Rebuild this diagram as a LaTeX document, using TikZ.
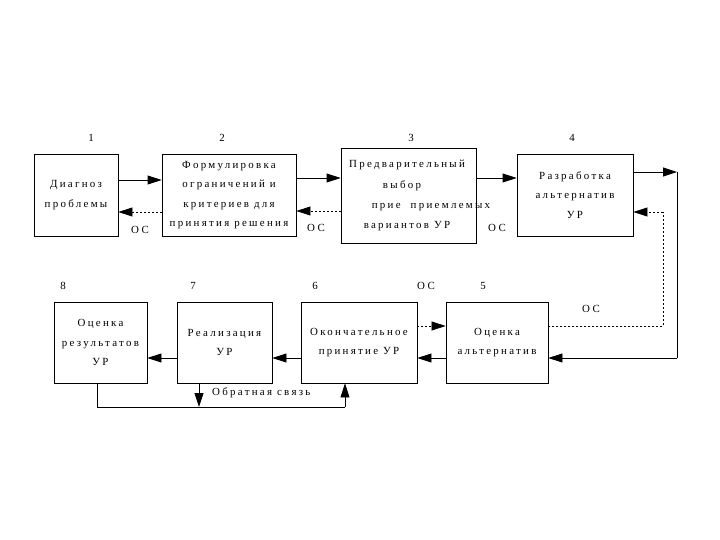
\documentclass[tikz,border=0pt]{standalone}
\usepackage{fontspec}
\setmainfont{Liberation Serif}[LetterSpace=21]
\usetikzlibrary{arrows.meta,calc}
\begin{document}
\begin{tikzpicture}[x=1pt,y=-1pt,
  box/.style={draw,line width=0.8pt,inner sep=0pt,align=center,
    font=\fontsize{10.9}{19.6}\selectfont},
  txt/.style={inner sep=0pt,font=\fontsize{10.9}{19.6}\selectfont},
  lbl/.style={inner sep=0pt,font=\fontsize{10.9}{12}\selectfont},
  con/.style={line width=0.8pt,-{Triangle[length=14pt,width=9pt]}},
  ln/.style={line width=0.8pt},
  fb/.style={line width=0.7pt,dash pattern=on 2pt off 2pt,-{Triangle[length=14pt,width=9pt]}},
  fbl/.style={line width=0.7pt,dash pattern=on 2pt off 2pt}]
\useasboundingbox (0,0) rectangle (720,540);
% boxes
\node[box,minimum width=84,minimum height=82] (b1) at (76,195) {Диагноз\\проблемы};
\node[box,minimum width=134,minimum height=82] (b2) at (229,195) {Формулировка\\ограничений и\\критериев для\\принятия решения};
\node[box,minimum width=135,minimum height=95] (b3) at (408.5,195.5) {};
\node[txt] (b3a) at (407,165) {Предварительный};
\node[txt] (b3b) at (402,186) {выбор};
\node[txt] (b3c) at (431,207) {прие\ \ приемлемых};
\node[txt] (b3d) at (407,226) {вариантов УР};
\node[box,minimum width=116,minimum height=82] (b4) at (575,195) {Разработка\\альтернатив\\УР};
\node[box,minimum width=102,minimum height=81] (b5) at (497,342.5) {Оценка\\альтернатив};
\node[box,minimum width=116,minimum height=81] (b6) at (359,342.5) {Окончательное\\принятие УР};
\node[box,minimum width=95,minimum height=81] (b7) at (224.5,342.5) {Реализация\\УР};
\node[box,minimum width=93,minimum height=81] (b8) at (100.5,342.5) {Оценка\\результатов\\УР};
% numbers
\node[lbl] (n1) at (91,138) {1};
\node[lbl] (n2) at (222,138) {2};
\node[lbl] (n3) at (411,138) {3};
\node[lbl] (n4) at (572,138) {4};
\node[lbl] (n8) at (63,286) {8};
\node[lbl] (n7) at (193,286) {7};
\node[lbl] (n6) at (315,286) {6};
\node[lbl] (n5) at (483,286) {5};
% OS labels
\node[lbl] (os1) at (140,230) {ОС};
\node[lbl] (os2) at (316,228) {ОС};
\node[lbl] (os3) at (497,228) {ОС};
\node[lbl] (os4) at (426,286) {ОС};
\node[lbl] (os5) at (591,309) {ОС};
\node[lbl,anchor=west] (obs) at (212,393) {Обратная связь};
% coordinates
\coordinate (r1) at (677,172);
\coordinate (r2) at (677,358);
\coordinate (d1) at (663,326);
\coordinate (d2) at (663,212);
\coordinate (q1) at (97,407);
\coordinate (q2) at (345,407);
\coordinate (q3) at (199,407);
% forward arrows
\draw[con] ($(b1.east)+(0,-15)$) -- ($(b2.west)+(0,-15)$);
\draw[con] ($(b2.east)+(0,-17)$) -- ($(b3.west)+(0,-17.5)$);
\draw[con] ($(b3.east)+(0,-17.5)$) -- ($(b4.west)+(0,-17)$);
\draw[con] ($(b4.east)+(0,-23)$) -- (r1);
\draw[ln] (r1) -- (r2);
\draw[con] (r2) -- ($(b5.east)+(0,15.5)$);
\draw[con] ($(b5.west)+(0,15.5)$) -- ($(b6.east)+(0,15.5)$);
\draw[con] ($(b6.west)+(0,15.5)$) -- ($(b7.east)+(0,15.5)$);
\draw[con] ($(b7.west)+(0,15.5)$) -- ($(b8.east)+(0,15.5)$);
% feedback dashed
\draw[fb] ($(b2.west)+(0,17)$) -- ($(b1.east)+(0,17)$);
\draw[fb] ($(b3.west)+(0,15.5)$) -- ($(b2.east)+(0,16)$);
\draw[fbl] ($(b5.east)+(0,-16.5)$) -- (d1) -- (d2);
\draw[fb] (d2) -- ($(b4.east)+(0,17)$);
\draw[fb] ($(b6.east)+(0,-16.5)$) -- ($(b5.west)+(0,-16.5)$);
% bottom loop
\draw[ln] ($(b8.south)+(-3.5,0)$) -- (q1) -- (q2);
\draw[con] (q2) -- ($(b6.south)+(-14,0)$);
\draw[con] ($(b7.south)+(-25.5,0)$) -- (q3);
\end{tikzpicture}
\end{document}
